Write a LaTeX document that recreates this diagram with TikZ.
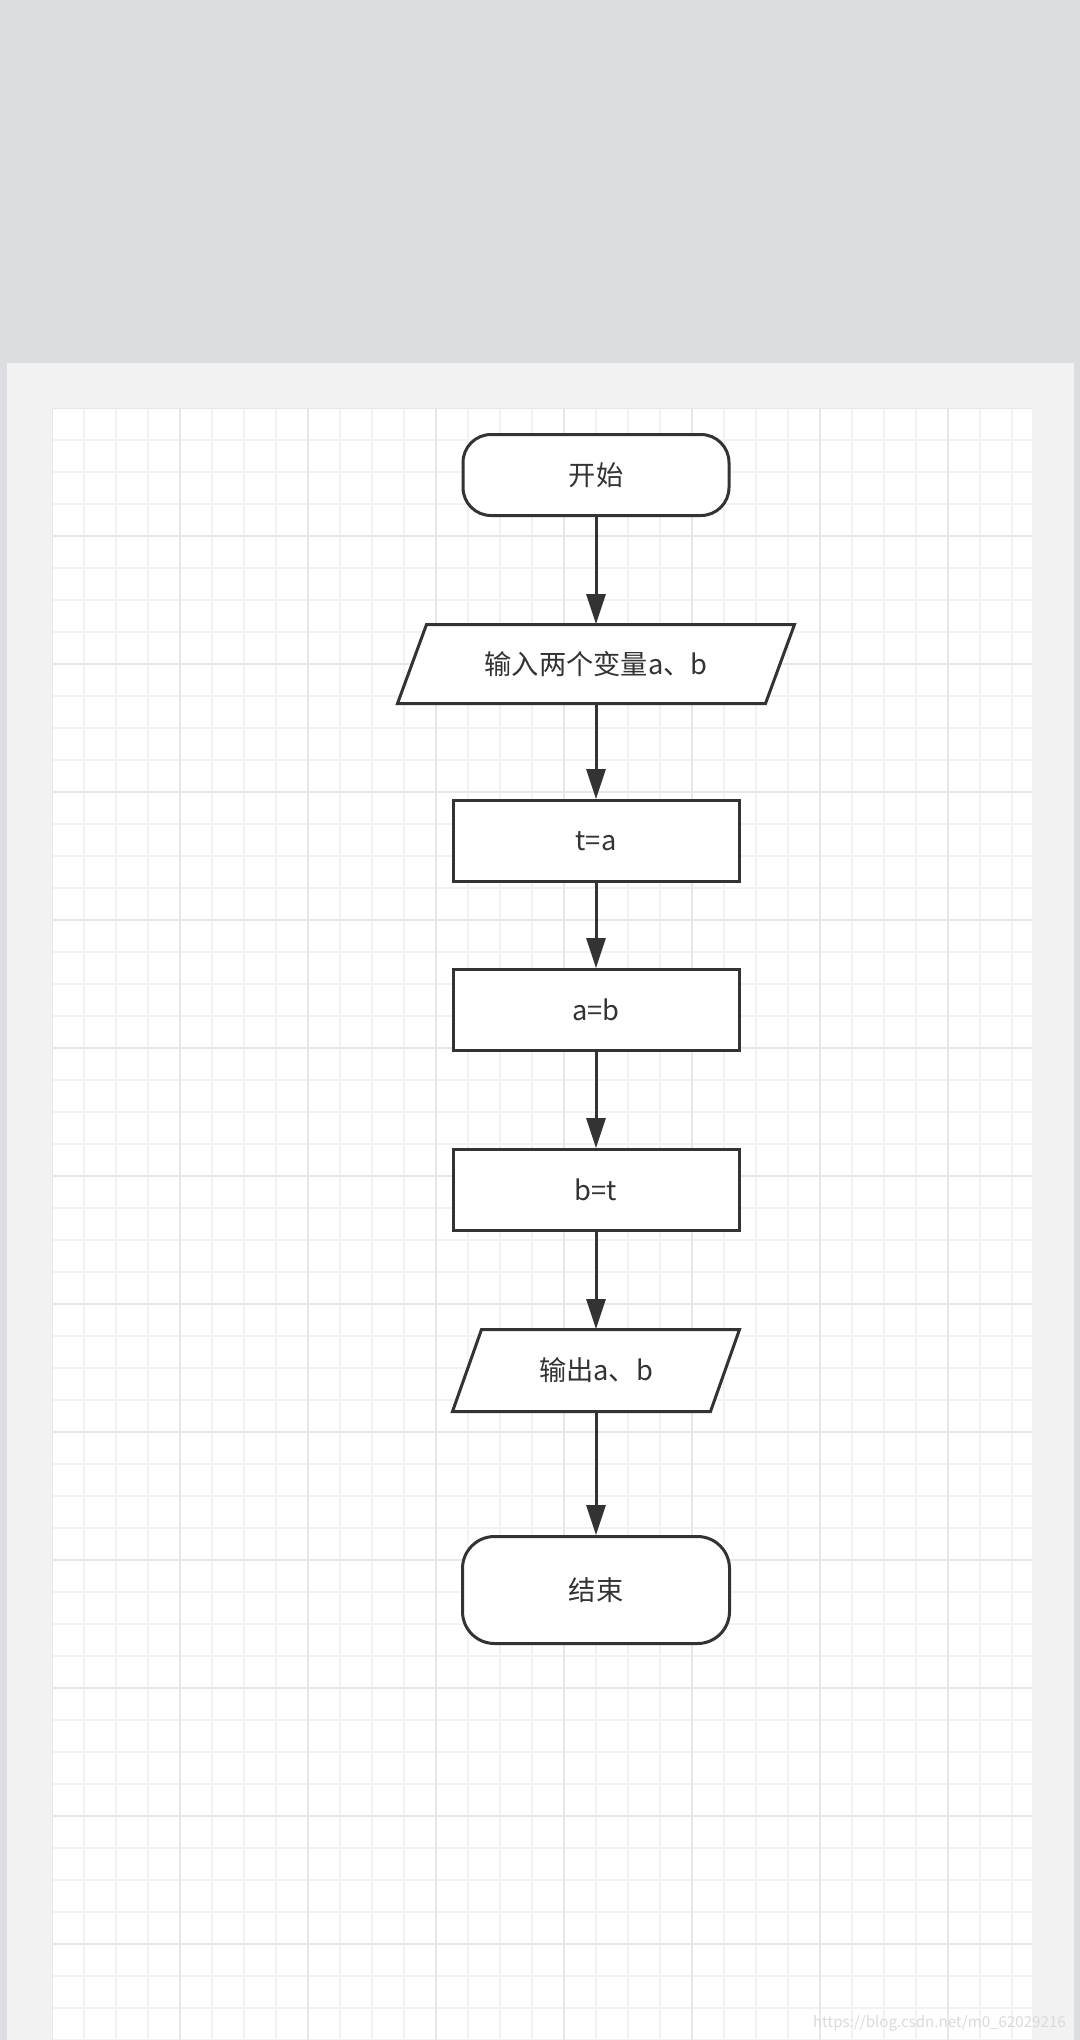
\documentclass[tikz,border=0pt]{standalone}
\usepackage{fontspec}
\setmainfont{Noto Sans CJK SC}
\usepackage{xcolor}
\usepackage{tikz}
\usetikzlibrary{arrows.meta,calc,positioning}
\definecolor{deskbg}{HTML}{DCDDE1}
\definecolor{sheetbg}{HTML}{F2F2F2}
\definecolor{gridminor}{HTML}{F2F2F2}
\definecolor{gridmajor}{HTML}{E7E7E7}
\definecolor{inkline}{HTML}{333333}
\definecolor{marktext}{HTML}{DADADA}
\newcommand{\flowfont}{\fontsize{15.5pt}{17pt}\selectfont}
\tikzset{
  flowbase/.style={draw=inkline, line width=0.06cm, fill=white, text=inkline, inner sep=0pt, align=center, font=\flowfont},
  flowterm/.style={flowbase, rounded corners=0.56cm, minimum width=5.32cm, minimum height=1.62cm},
  flowproc/.style={flowbase, minimum width=5.72cm, minimum height=1.62cm},
  flowio/.style={text=inkline, inner sep=0pt, align=center, font=\flowfont, minimum height=1.58cm},
  ioshape/.style={draw=inkline, line width=0.06cm, fill=white, line join=miter},
  flowarrow/.style={-{Triangle[length=0.6cm,width=0.38cm]}, line width=0.06cm, draw=inkline},
  minorline/.style={draw=gridminor, line width=0.03cm},
  majorline/.style={draw=gridmajor, line width=0.04cm}
}

\begin{document}
\begin{tikzpicture}[x=1cm,y=1cm]

  \useasboundingbox (0,0) rectangle (21.6,-40.8);

  % page and sheet
  \fill[deskbg] (0,0) rectangle (21.6,-40.8);
  \fill[sheetbg] (0.14,-7.26) rectangle (21.48,-40.8);
  \fill[white] (1.04,-8.16) rectangle (20.64,-40.8);

  % grid
  \begin{scope}[shift={(1.04,-8.16)}]
    \clip (0,0) rectangle (19.6,-32.64);
    \draw[minorline, step=0.64] (0,0) grid (19.6,-32.64);
    \draw[majorline, step=2.56] (0,0) grid (19.6,-32.64);
  \end{scope}

  % parallelogram outlines
  \coordinate (inputc)  at (11.92,-13.28);
  \coordinate (outputc) at (11.92,-27.41);
  \draw[ioshape] ($(inputc)+(-3.97,-0.79)$) -- ++(7.36,0) -- ++(0.58,1.58) -- ++(-7.36,0) -- cycle;
  \draw[ioshape] ($(outputc)+(-2.87,-0.82)$) -- ++(5.16,0) -- ++(0.58,1.64) -- ++(-5.16,0) -- cycle;

  % nodes
  \node[flowterm] (start) at (11.92,-9.50) {开始};
  \node[flowio, minimum width=7.36cm] (input) at (inputc) {输入两个变量a、b};
  \node[flowproc] (tset) at (11.92,-16.82) {t=a};
  \node[flowproc] (aset) at (11.92,-20.20) {a=b};
  \node[flowproc] (bset) at (11.92,-23.80) {b=t};
  \node[flowio, minimum width=5.16cm, minimum height=1.64cm] (output) at (outputc) {输出a、b};
  \node[flowterm, rounded corners=0.64cm, minimum width=5.34cm, minimum height=2.14cm] (stop) at (11.92,-31.80) {结束};

  % arrows
  \draw[flowarrow] (start.south) -- (input.north);
  \draw[flowarrow] (input.south) -- (tset.north);
  \draw[flowarrow] (tset.south) -- (aset.north);
  \draw[flowarrow] (aset.south) -- (bset.north);
  \draw[flowarrow] (bset.south) -- (output.north);
  \draw[flowarrow] (output.south) -- (stop.north);

  % watermark
  \node[text=marktext, font=\fontsize{8.6pt}{10pt}\selectfont, anchor=east] (mark) at (21.44,-40.46) {https://blog.csdn.net/m0\_62029216};

\end{tikzpicture}
\end{document}
